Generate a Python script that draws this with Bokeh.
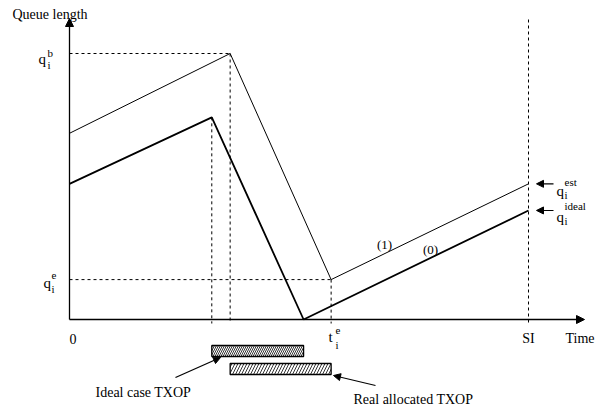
from bokeh.plotting import figure
from bokeh.models import Range1d, Arrow, NormalHead
from bokeh.core.properties import value
from bokeh.embed import file_html
from bokeh.resources import INLINE

# ---------------- data (diagram values, arbitrary units) ----------------
SI = 10.0
time_est = [0.0, 3.5, 5.7, 10.0]      # curve (1)
queue_est = [7.0, 10.0, 1.5, 5.1]
time_ideal = [0.0, 3.1, 5.1, 10.0]    # curve (0)
queue_ideal = [5.1, 7.6, 0.0, 4.1]
q_b = queue_est[1]
q_e = queue_est[2]
t_e = time_est[2]

# ---------------- layout (pixel scale of the diagram) ----------------
W, H = 595, 408
X0, Y0 = 69, 319          # page pixel of the origin
SX, SY = 45.9, 26.6       # pixels per unit
M = 0

def T(px):
    return (px - X0) / SX

def Q(py):
    return (Y0 - py) / SY

FONT = value("Liberation Serif")

p = figure(width=W, height=H, output_backend="svg", toolbar_location=None,
           x_range=Range1d(T(M), T(M + W)), y_range=Range1d(Q(M + H), Q(M)),
           min_border=0, outline_line_color=None)
p.axis.visible = False
p.grid.visible = False
p.background_fill_color = "white"

# axes with arrows
p.add_layout(Arrow(end=NormalHead(size=8, fill_color="black", line_color="black"),
                   x_start=0, y_start=0, x_end=0, y_end=Q(18), line_width=1.3,
                   line_color="black"))
p.add_layout(Arrow(end=NormalHead(size=8, fill_color="black", line_color="black"),
                   x_start=0, y_start=0, x_end=T(584), y_end=0, line_width=1.3,
                   line_color="black"))

# dashed guides
below = Q(323)
dash = "3 3"
p.segment(x0=[0, 0], y0=[q_b, q_e], x1=[time_est[1], t_e], y1=[q_b, q_e],
          line_dash=dash, line_color="black", line_width=1)
p.segment(x0=[time_ideal[1], time_est[1], t_e, SI],
          y0=[queue_ideal[1], q_b, q_e, Q(19)],
          x1=[time_ideal[1], time_est[1], t_e, SI],
          y1=[below, below, below, below],
          line_dash=dash, line_color="black", line_width=1)

# curves
p.line(time_est, queue_est, line_color="black", line_width=1)
p.line(time_ideal, queue_ideal, line_color="black", line_width=1.8)

# TXOP bars
p.quad(left=[time_ideal[1]], right=[time_ideal[2]], top=[Q(345)], bottom=[Q(356)],
       fill_color="white", line_color="black", line_width=1.3,
       hatch_pattern="\\", hatch_scale=4, hatch_color="black", hatch_weight=0.8)
p.quad(left=[time_est[1]], right=[time_est[2]], top=[Q(363)], bottom=[Q(374)],
       fill_color="white", line_color="black", line_width=1.3,
       hatch_pattern="/", hatch_scale=6, hatch_color="black", hatch_weight=0.8)

# label arrows
def small_arrow(x0, y0, x1, y1):
    p.add_layout(Arrow(end=NormalHead(size=7, fill_color="black", line_color="black"),
                       x_start=x0, y_start=y0, x_end=x1, y_end=y1,
                       line_width=1.1, line_color="black"))

small_arrow(T(175), Q(377), T(220), Q(357))
small_arrow(T(375), Q(385), T(333), Q(375))
small_arrow(T(553), queue_est[3], T(536), queue_est[3])
small_arrow(T(553), queue_ideal[3], T(536), queue_ideal[3])

def txt(xs, ys, texts, size, align="left"):
    p.text(x=xs, y=ys, text=texts, text_font=FONT, text_font_size=size,
           text_align=align, text_baseline="alphabetic", text_color="black")

# plain labels
txt([T(12), T(X0), T(565), T(95), T(353)],
    [Q(14), Q(338), Q(338), Q(392), Q(399)],
    ["Queue length", "0", "Time", "Ideal case TXOP", "Real allocated TXOP"], "14px")
txt([SI], [Q(338)], ["SI"], "14px", align="center")
txt([T(384), T(430)], [Q(244), Q(249)], ["(1)", "(0)"], "13px", align="center")

# math labels: main letter
txt([T(38), T(43), T(556), T(556)],
    [Q(58), Q(282), Q(190), Q(216)], ["q", "q", "q", "q"], "15px")
txt([T(328)], [Q(336)], ["t"], "15px")
# superscripts / subscripts
txt([T(47), T(51), T(335), T(564), T(564)],
    [Q(52), Q(275), Q(330), Q(181), Q(205)],
    ["b", "e", "e", "est", "ideal"], "11px")
txt([T(47), T(51), T(335), T(564), T(564)],
    [Q(64), Q(288), Q(344), Q(194), Q(220)],
    ["i", "i", "i", "i", "i"], "11px")

open("out.html", "w").write(file_html(p, INLINE))
